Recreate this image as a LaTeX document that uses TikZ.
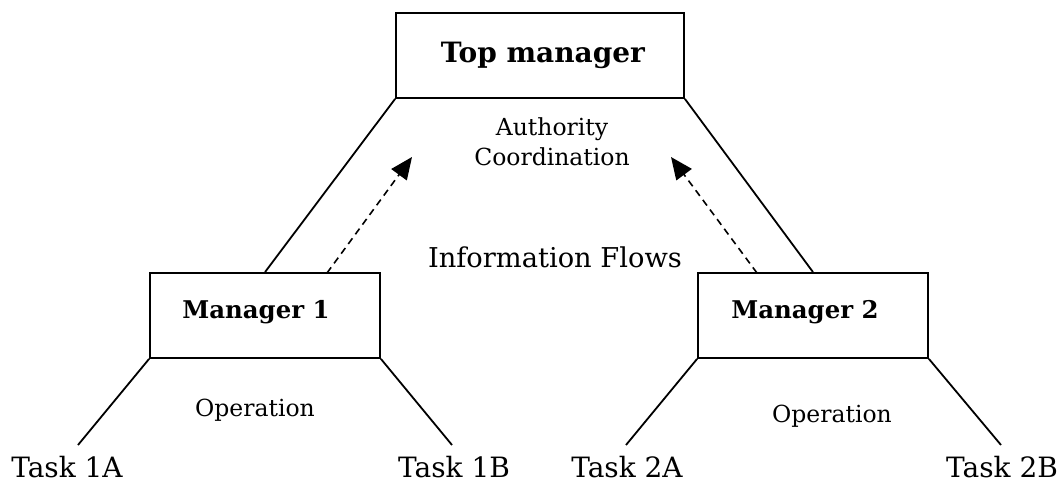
\documentclass[tikz,border=0pt]{standalone}
\usepackage{fontspec}
\setmainfont{DejaVu Serif}
\usetikzlibrary{arrows.meta}
\begin{document}
\begin{tikzpicture}[x=1pt,y=-1pt,
  box/.style={draw,line width=1.8pt,minimum width=#1,minimum height=85pt,inner sep=0pt},
  conn/.style={line width=1.8pt},
  flow/.style={line width=1.6pt,dash pattern=on 7pt off 5pt,-{Triangle[length=22pt,width=19pt]}},
  boldlbl/.style={font=\fontsize{24.4}{28}\selectfont\bfseries},
  lbl/.style={font=\fontsize{23.5}{30}\selectfont},
  biglbl/.style={font=\fontsize{27.3}{32}\selectfont},
  tasklbl/.style={font=\fontsize{28}{32}\selectfont}]
\useasboundingbox (0,0) rectangle (1060,484);
\node[box=288pt] (top) at (540,55.5) {};
\node[font=\fontsize{28}{32}\selectfont\bfseries] (topt) at (543,55) {Top manager};
\node[box=230pt] (m1) at (265,315.5) {};
\node[boldlbl] (m1t) at (256,312) {Manager 1};
\node[box=230pt] (m2) at (813,315.5) {};
\node[boldlbl] (m2t) at (805,312) {Manager 2};
\node[lbl,align=center] (auth) at (552,142) {Authority\\Coordination};
\node[biglbl] (info) at (555,257) {Information Flows};
\node[lbl] (op1) at (255,410) {Operation};
\node[lbl] (op2) at (832,416) {Operation};
\node[tasklbl] (t1a) at (67,467) {Task 1A};
\node[tasklbl] (t1b) at (454,467) {Task 1B};
\node[tasklbl] (t2a) at (627,467) {Task 2A};
\node[tasklbl] (t2b) at (1002,467) {Task 2B};
\coordinate (e1a) at (78,445);
\coordinate (e1b) at (452,445);
\coordinate (e2a) at (626,445);
\coordinate (e2b) at (1001,445);
\coordinate (f1s) at (327,273);
\coordinate (f1e) at (412,157);
\coordinate (f2s) at (757,273);
\coordinate (f2e) at (671,157);
\draw[conn] (top.south west) -- (m1.north);
\draw[conn] (top.south east) -- (m2.north);
\draw[conn] (m1.south west) -- (e1a);
\draw[conn] (m1.south east) -- (e1b);
\draw[conn] (m2.south west) -- (e2a);
\draw[conn] (m2.south east) -- (e2b);
\draw[flow] (f1s) -- (f1e);
\draw[flow] (f2s) -- (f2e);
\end{tikzpicture}
\end{document}
